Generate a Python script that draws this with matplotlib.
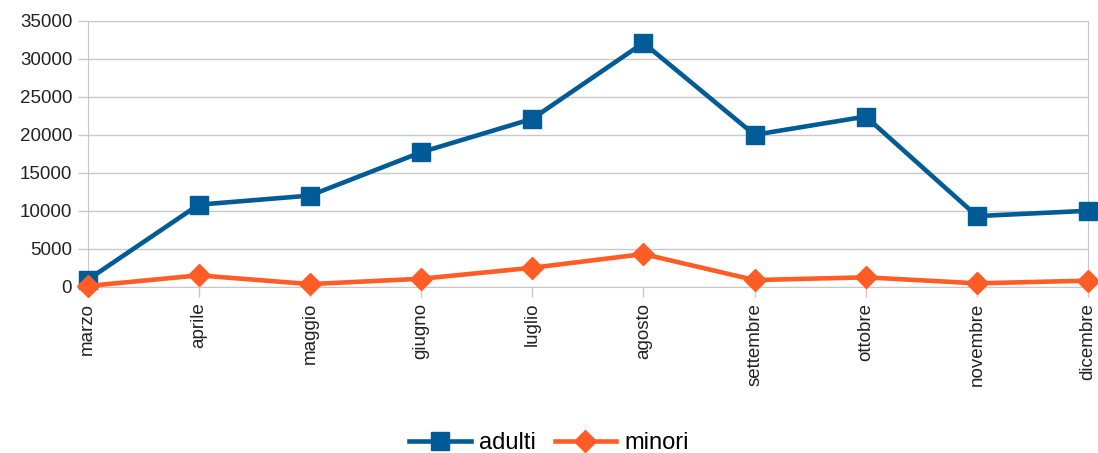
import matplotlib
matplotlib.use("Agg")
import matplotlib.pyplot as plt

plt.rcParams['font.family'] = ['Liberation Sans', 'DejaVu Sans']

# months and monthly counts
mesi = ['marzo', 'aprile', 'maggio', 'giugno', 'luglio', 'agosto',
        'settembre', 'ottobre', 'novembre', 'dicembre']
adulti = [900, 10800, 12000, 17700, 22100, 32100, 20000, 22400, 9300, 10000]
minori = [100, 1500, 350, 1050, 2500, 4300, 880, 1240, 450, 800]
y_ticks = [0, 5000, 10000, 15000, 20000, 25000, 30000, 35000]

blue = '#005b96'
orange = '#ff5c26'
grid_col = '#c8c8c8'

fig = plt.figure(figsize=(10.98, 4.53), dpi=100)
ax = fig.add_axes([0.0797, 0.367, 0.9113, 0.587])

x = range(len(mesi))
ax.plot(x, adulti, color=blue, lw=3.3, marker='s', markersize=13,
        label='adulti', clip_on=False, zorder=3)
ax.plot(x, minori, color=orange, lw=3.3, marker='D', markersize=11,
        label='minori', clip_on=False, zorder=4)

ax.set_xlim(0, len(mesi) - 1)
ax.set_ylim(0, 35000)
ax.set_yticks(y_ticks)
ax.set_yticklabels([str(v) for v in y_ticks])
ax.set_xticks(list(x))
ax.set_xticklabels(mesi, rotation=90)

ax.yaxis.grid(True, color=grid_col, lw=1)
ax.set_axisbelow(True)
for s in ax.spines.values():
    s.set_color(grid_col)
ax.spines['top'].set_visible(False)

ax.tick_params(axis='both', colors=grid_col, length=7.5, width=1,
               labelcolor='#222222', labelsize=13.5)
ax.tick_params(axis='x', pad=4)

# legend sits right at the bottom edge, as in the reference
leg = fig.legend(loc='lower center', bbox_to_anchor=(0.5, -0.028), ncol=2,
                 frameon=False, fontsize=17, handlelength=2.6, borderpad=0,
                 columnspacing=0.8, handletextpad=0.35)

fig.savefig('out.png', dpi=100)
